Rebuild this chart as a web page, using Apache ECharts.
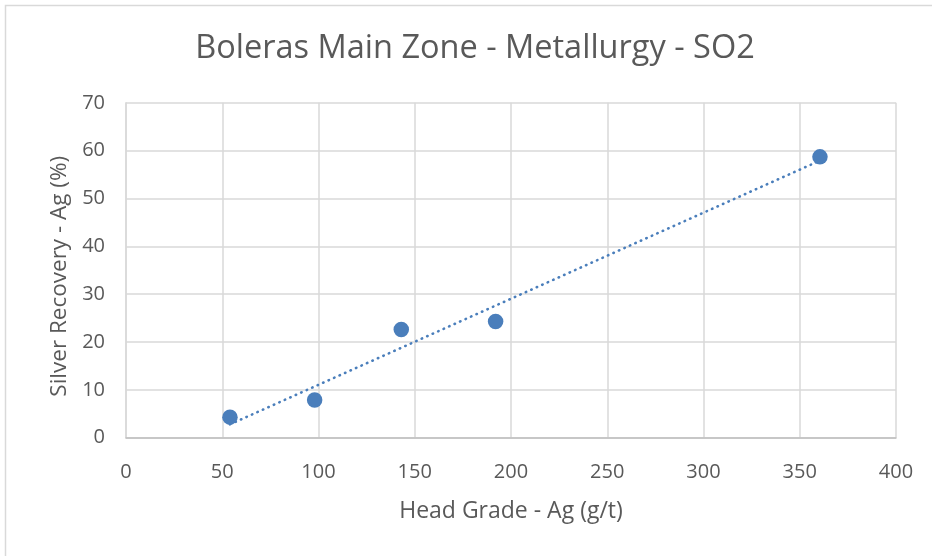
<!DOCTYPE html>
<html><head><meta charset="utf-8">
<script src="https://cdn.jsdelivr.net/npm/echarts@6/dist/echarts.min.js"></script>
<style>html,body{margin:0;padding:0;background:#fff}#c{width:932px;height:556px}</style>
</head><body><div id="c"></div>
<script>
const headGrade = [54, 98, 143, 192, 360.5];
const recovery = [4.3, 7.9, 22.6, 24.3, 58.7];
const xTicks = [0, 50, 100, 150, 200, 250, 300, 350, 400];
const yTicks = [0, 10, 20, 30, 40, 50, 60, 70];

// linear least-squares trendline (as Excel's linear trendline)
const n = headGrade.length;
const mx = headGrade.reduce((a,b)=>a+b,0)/n;
const my = recovery.reduce((a,b)=>a+b,0)/n;
let sxy=0, sxx=0;
for (let i=0;i<n;i++){ sxy+=(headGrade[i]-mx)*(recovery[i]-my); sxx+=(headGrade[i]-mx)**2; }
const slope = sxy/sxx, icpt = my - slope*mx;
const xMin = Math.min(...headGrade), xMax = Math.max(...headGrade);
const trend = [[xMin, icpt+slope*xMin],[xMax, icpt+slope*xMax]];

const font = "'Open Sans', sans-serif";
const txt = '#595959';
const blue = '#4a7ebb';
const chart = echarts.init(document.getElementById('c'));
chart.setOption({
  animation:false,
  backgroundColor:'#fff',
  graphic:[
    {type:'rect',shape:{x:5.5,y:5.5,width:940,height:560},style:{fill:'none',stroke:'#d9d9d9',lineWidth:1.5},silent:true},
    {type:'text',x:475,y:49,style:{text:'Boleras Main Zone - Metallurgy - SO2',textAlign:'center',textVerticalAlign:'middle',
      fontFamily:font,fontSize:32.5,fontWeight:'normal',fill:txt},silent:true}
  ],
  grid:{left:126,right:36,top:102.8,bottom:118.3},
  xAxis:{type:'value',min:xTicks[0],max:xTicks[xTicks.length-1],interval:50,
    name:'Head Grade - Ag (g/t)',nameLocation:'middle',nameGap:62,
    nameTextStyle:{fontFamily:font,fontSize:23,color:txt},
    axisLine:{show:true,lineStyle:{color:'#bfbfbf',width:1.5}},axisTick:{show:false},
    axisLabel:{fontFamily:font,fontSize:20,color:txt,margin:25},
    splitLine:{show:true,lineStyle:{color:'#d9d9d9',width:1.5}}},
  yAxis:{type:'value',min:yTicks[0],max:yTicks[yTicks.length-1],interval:10,
    name:'Silver Recovery - Ag (%)',nameLocation:'middle',nameGap:50,
    nameTextStyle:{fontFamily:font,fontSize:22.5,color:txt,padding:[0,12,0,0]},
    axisLine:{show:true,lineStyle:{color:'#d9d9d9',width:1.5}},axisTick:{show:false},
    axisLabel:{fontFamily:font,fontSize:20,color:txt,margin:21},
    splitLine:{show:true,lineStyle:{color:'#d9d9d9',width:1.5}}},
  series:[
    {type:'line',data:trend,symbol:'none',lineStyle:{color:blue,width:2.6,type:[0.5,5.5],cap:'round'},z:1},
    {type:'scatter',data:headGrade.map((x,i)=>[x,recovery[i]]),symbolSize:15.5,
      itemStyle:{color:blue,opacity:1},z:2}
  ]
});
</script></body></html>
